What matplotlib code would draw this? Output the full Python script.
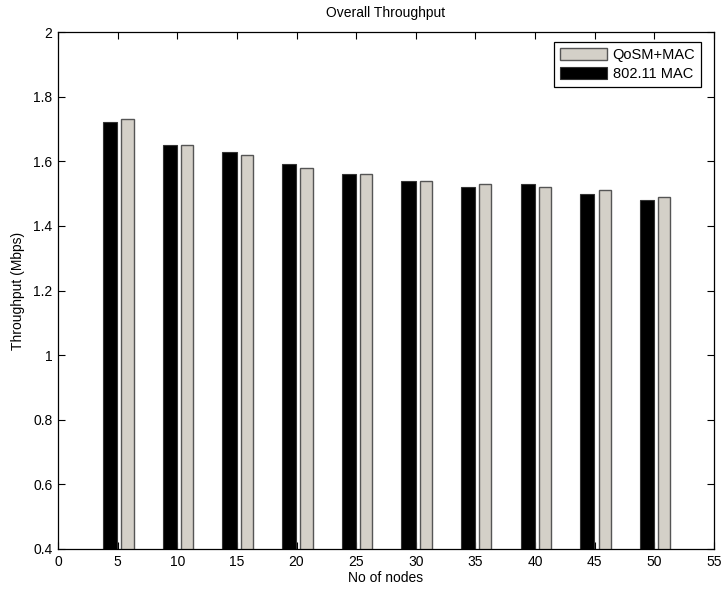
import numpy as np
import matplotlib.pyplot as plt

plt.rcParams['font.family'] = ['Liberation Sans', 'DejaVu Sans']
plt.rcParams['font.size'] = 10

# Throughput per number of nodes
nodes = [5, 10, 15, 20, 25, 30, 35, 40, 45, 50]
mac_80211 = [1.72, 1.65, 1.63, 1.59, 1.56, 1.54, 1.52, 1.53, 1.50, 1.48]
qosm_mac = [1.73, 1.65, 1.62, 1.58, 1.56, 1.54, 1.53, 1.52, 1.51, 1.49]

x = np.array(nodes)

fig = plt.figure(figsize=(7.24, 5.92), dpi=100)
ax = fig.add_axes([58 / 724, 1 - 549 / 592, 656 / 724, 517 / 592])

b1 = ax.bar(x - 0.62, mac_80211, width=1.2, color='black',
            edgecolor='#333333', linewidth=0.8, bottom=0, zorder=2)
b2 = ax.bar(x + 0.83, qosm_mac, width=1.02, color='#d4d0c8',
            edgecolor='#555555', linewidth=1.0, bottom=0, zorder=2)

ax.set_xlim(0, 55)
ax.set_ylim(0.4, 2)
ax.set_xticks(np.arange(0, 56, 5))
ax.set_yticks(np.arange(0.4, 2.01, 0.2))
ax.set_yticklabels(['0.4', '0.6', '0.8', '1', '1.2', '1.4', '1.6', '1.8', '2'])

ax.tick_params(direction='in', top=True, right=True, length=5, width=0.8,
               labelsize=10, pad=4)
for s in ax.spines.values():
    s.set_linewidth(0.9)

ax.set_title('Overall Throughput', fontsize=10, pad=11)
ax.set_xlabel('No of nodes', fontsize=10, labelpad=2)
ax.set_ylabel('Throughput (Mbps)', fontsize=10, labelpad=6)

leg = ax.legend([b2, b1], ['QoSM+MAC', '802.11 MAC'], loc='upper right',
                bbox_to_anchor=(701 / 724, 1 - 42 / 592),
                bbox_transform=fig.transFigure, borderaxespad=0,
                fancybox=False, edgecolor='black', framealpha=1,
                handlelength=3.2, handleheight=0.9, handletextpad=0.4,
                labelspacing=0.35, borderpad=0.4, fontsize=10.5)
leg.get_frame().set_linewidth(0.9)

fig.savefig('out.png', dpi=100)
